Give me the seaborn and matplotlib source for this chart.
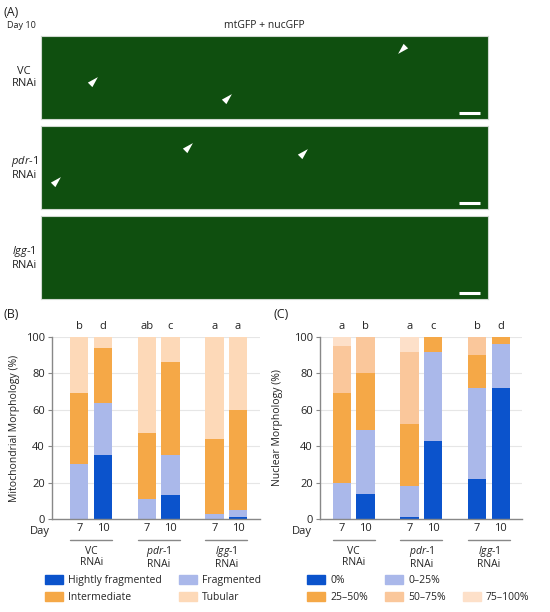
import matplotlib
matplotlib.use('Agg')
import matplotlib.pyplot as plt
from matplotlib.patches import Patch, Polygon
import matplotlib.transforms as mtransforms
import seaborn as sns
import pandas as pd
import numpy as np

# --- dados ---
groups = ['VC', 'pdr', 'lgg']
group_labels = ['VC\nRNAi', r'$\mathit{pdr}$-1' + '\nRNAi', r'$\mathit{lgg}$-1' + '\nRNAi']
days = ['7', '10']

# (B) morfologia mitocondrial (%), ordem das barras: VC7, VC10, pdr7, pdr10, lgg7, lgg10
mito_cats = ['Hightly fragmented', 'Fragmented', 'Intermediate', 'Tubular']
mito_highly = [0, 35, 0, 13, 0, 1]
mito_frag = [30, 29, 11, 22, 3, 4]
mito_inter = [39, 30, 36, 51, 41, 55]
mito_tub = [31, 6, 53, 14, 56, 40]
mito_letters = ['b', 'd', 'ab', 'c', 'a', 'a']

# (C) morfologia nuclear (%)
nuc_cats = ['0%', '0–25%', '25–50%', '50–75%', '75–100%']
nuc_0 = [0, 14, 1, 43, 22, 72]
nuc_0_25 = [20, 35, 17, 49, 50, 24]
nuc_25_50 = [49, 31, 34, 8, 18, 4]
nuc_50_75 = [26, 20, 40, 0, 10, 0]
nuc_75_100 = [5, 0, 8, 0, 0, 0]
nuc_letters = ['a', 'b', 'a', 'c', 'b', 'd']

# painel (A): centro das pontas de seta (pixels dentro de cada imagem) e direção
arrows_vc = [(53, 45, 'ur'), (187, 62, 'ur'), (361, 14, 'dl')]
arrows_pdr = [(16, 55, 'ur'), (148, 21, 'ur'), (263, 27, 'ur')]

mito_colors = ['#0b53cc', '#aab8ea', '#f5a847', '#fdd9b8']
nuc_colors = ['#0b53cc', '#aab8ea', '#f5a847', '#fac79b', '#fde0c9']

sns.set_theme(style='white')
plt.rcParams['font.family'] = ['Open Sans', 'DejaVu Sans']
plt.rcParams['mathtext.fontset'] = 'custom'
plt.rcParams['mathtext.it'] = 'Open Sans:italic'
plt.rcParams['mathtext.rm'] = 'Open Sans'
FS = 7.5
TXT = '#222222'
W, H = 550, 612

fig = plt.figure(figsize=(5.5, 6.12), dpi=100)


def fx(px):
    return px / W


def fy(py):
    return 1 - py / H


# --- PAINEL (A) ---
fig.text(fx(4), fy(12), '(A)', fontsize=9, va='center', color=TXT)
fig.text(fx(7), fy(26), 'Day 10', fontsize=6.5, va='center', color=TXT)
fig.text(fx(264), fy(26), 'mtGFP + nucGFP', fontsize=7.5, va='center', ha='center', color=TXT)

img_rows = [(36, 119, 'VC\nRNAi', arrows_vc),
            (126, 209, r'$\mathit{pdr}$-1' + '\nRNAi', arrows_pdr),
            (216, 299, r'$\mathit{lgg}$-1' + '\nRNAi', [])]
for top, bot, lab, arr in img_rows:
    axi = fig.add_axes([fx(41), fy(bot), fx(488) - fx(41), (bot - top) / H])
    axi.set_facecolor('#0f4f0f')
    axi.set_xlim(0, 447)
    axi.set_ylim(bot - top, 0)
    axi.set_xticks([]); axi.set_yticks([])
    for s in axi.spines.values():
        s.set_color('#cfd8cf'); s.set_linewidth(0.8)
    # barra de escala
    axi.plot([418, 439], [77, 77], color='white', lw=2.2, solid_capstyle='butt')
    for x0, y0, d in arr:
        v = np.array([1, -1]) / np.sqrt(2) if d == 'ur' else np.array([-1, 1]) / np.sqrt(2)
        perp = np.array([v[1], -v[0]])
        c = np.array([x0, y0])
        tip = c + 5.5 * v
        base = c - 5.5 * v
        tri = [tip, base + 3.2 * perp, base - 3.2 * perp]
        axi.add_patch(Polygon(tri, closed=True, color='white', lw=0))
    fig.text(fx(24), fy((top + bot) / 2), lab, fontsize=8, ha='center', va='center',
             multialignment='center', color=TXT)

# --- PAINÉIS (B) e (C) ---
positions = []
for g in range(len(groups)):
    positions += [g - 0.175, g + 0.175]


def stacked(ax, series, colors, letters, xlim, ylabel, day_x, ylabel_x):
    tops = np.cumsum(np.array(series), axis=0)
    # desenha de cima para baixo para que cada faixa fique visível
    for i in range(len(series) - 1, -1, -1):
        dfc = pd.DataFrame({'pos': positions, 'top': tops[i]})
        sns.barplot(data=dfc, x='pos', y='top', native_scale=True, color=colors[i],
                    saturation=1, width=0.27 / 0.35, errorbar=None, linewidth=0, ax=ax)
    ax.set_xlim(*xlim)
    ax.set_ylim(0, 100)
    ax.set_yticks([0, 20, 40, 60, 80, 100])
    ax.set_xticks(positions)
    ax.set_xticklabels(days * 3)
    ax.tick_params(axis='x', length=0, pad=3, labelsize=8, colors=TXT)
    ax.tick_params(axis='y', length=3, width=0.8, color='#888', pad=2, labelsize=8,
                   colors=TXT, left=True)
    ax.yaxis.grid(True, color='#e6e6e6', lw=0.8)
    ax.set_axisbelow(True)
    for s in ['top', 'right']:
        ax.spines[s].set_visible(False)
    for s in ['left', 'bottom']:
        ax.spines[s].set_color('#888'); ax.spines[s].set_linewidth(1)
    ax.set_xlabel('')
    ax.set_ylabel(ylabel, fontsize=FS, color=TXT)
    ax.yaxis.set_label_coords(ylabel_x, 0.5)
    for p, l in zip(positions, letters):
        ax.text(p, 106, l, ha='center', va='center', fontsize=8, color=TXT, clip_on=False)
    blend = mtransforms.blended_transform_factory(ax.transAxes, ax.transData)
    ax.text(day_x, -6.6, 'Day', transform=blend, ha='right', va='center', fontsize=8,
            color=TXT, clip_on=False)
    for g, lab in enumerate(group_labels):
        ax.plot([g - 0.31, g + 0.31], [-11.5, -11.5], color='#888', lw=1, clip_on=False)
        ax.text(g, -21, lab, ha='center', va='center', fontsize=FS, color=TXT,
                multialignment='center', clip_on=False, linespacing=1.0)


axB = fig.add_axes([fx(52), fy(519), fx(260) - fx(52), 182 / H])
stacked(axB, [mito_highly, mito_frag, mito_inter, mito_tub], mito_colors, mito_letters,
        (-0.58, 2.5), 'Mitochondrial Morphology (%)', -0.01, -0.155)
axC = fig.add_axes([fx(320), fy(519), fx(522) - fx(320), 182 / H])
stacked(axC, [nuc_0, nuc_0_25, nuc_25_50, nuc_50_75, nuc_75_100], nuc_colors, nuc_letters,
        (-0.50, 2.49), 'Nuclear Morphology (%)', -0.04, -0.185)

fig.text(fx(4), fy(315), '(B)', fontsize=9, va='center', color=TXT)
fig.text(fx(274), fy(315), '(C)', fontsize=9, va='center', color=TXT)

# legendas
leg_kw = dict(loc='upper left', frameon=False, fontsize=FS, handlelength=1.75,
              handleheight=0.85, handletextpad=0.5, columnspacing=1.6, labelspacing=0.6,
              borderpad=0, borderaxespad=0)
hB = [Patch(color=mito_colors[i], label=mito_cats[i]) for i in [0, 2, 1, 3]]
fig.legend(handles=hB, bbox_to_anchor=(fx(45), fy(575)), ncol=2, **leg_kw)
hC = [Patch(color=nuc_colors[i], label=nuc_cats[i]) for i in [0, 2, 1, 3]]
hC += [Patch(color='none', label=' '), Patch(color=nuc_colors[4], label=nuc_cats[4])]
fig.legend(handles=hC, bbox_to_anchor=(fx(307), fy(575)), ncol=3, **leg_kw)

fig.savefig('out.png', dpi=100)
